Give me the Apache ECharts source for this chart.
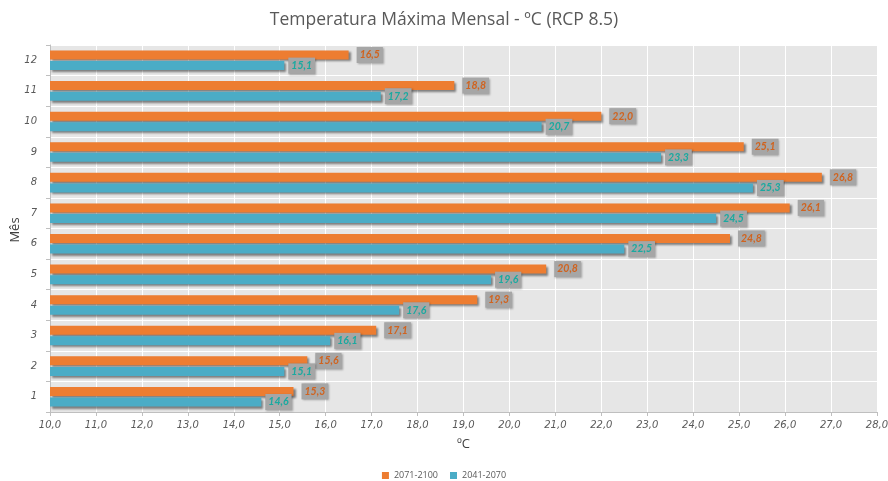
<!DOCTYPE html>
<html>
<head>
<meta charset="utf-8">
<script src="https://cdn.jsdelivr.net/npm/echarts@6/dist/echarts.min.js"></script>
<style>
  html, body { margin: 0; padding: 0; background: #ffffff; }
  #chart { width: 888px; height: 481px; }
</style>
</head>
<body>
<div id="chart"></div>
<script>
// Months (category axis, bottom to top)
const months = ['1', '2', '3', '4', '5', '6', '7', '8', '9', '10', '11', '12'];

// Monthly maximum temperature, ºC
const late = [15.3, 15.6, 17.1, 19.3, 20.8, 24.8, 26.1, 26.8, 25.1, 22.0, 18.8, 16.5];  // 2071-2100
const mid  = [14.6, 15.1, 16.1, 17.6, 19.6, 22.5, 24.5, 25.3, 23.3, 20.7, 17.2, 15.1];  // 2041-2070

const seriesNames = ['2071-2100', '2041-2070'];

const xMin = 10, xMax = 28, xStep = 1;

const comma = v => Number(v).toFixed(1).replace('.', ',');

const axisFont = {
  fontFamily: '"DejaVu Sans", sans-serif',
  fontStyle: 'italic',
  fontSize: 10,
  color: '#595959'
};

const nameFont = '13px "Open Sans", "DejaVu Sans", sans-serif';

function labelStyle(color, dist) {
  return {
    show: true,
    position: 'right',
    distance: dist,
    formatter: p => comma(p.value),
    fontFamily: 'Lato, "DejaVu Sans", sans-serif',
    fontStyle: 'italic',
    fontWeight: 'bold',
    fontSize: 10.5,
    color: color,
    backgroundColor: '#a6a6a6',
    padding: [3, 3, 2, 3],
    shadowColor: 'rgba(0,0,0,0.3)',
    shadowBlur: 2,
    shadowOffsetX: 1,
    shadowOffsetY: 1
  };
}

const barShadow = {
  shadowColor: 'rgba(0,0,0,0.45)',
  shadowBlur: 2,
  shadowOffsetX: 2,
  shadowOffsetY: 2
};

const chart = echarts.init(document.getElementById('chart'), null, { renderer: 'canvas' });

chart.setOption({
  animation: false,
  backgroundColor: '#ffffff',
  title: {
    text: 'Temperatura Máxima Mensal - ºC (RCP 8.5)',
    left: 'center',
    top: 6,
    textStyle: {
      fontFamily: '"Open Sans", "DejaVu Sans", sans-serif',
      fontSize: 17.5,
      fontWeight: 'normal',
      color: '#595959'
    }
  },
  legend: {
    data: seriesNames,
    bottom: 1,
    left: 'center',
    padding: [0, 5],
    itemWidth: 7,
    itemHeight: 7,
    itemGap: 12,
    icon: 'rect',
    textStyle: {
      fontFamily: '"Open Sans", "DejaVu Sans", sans-serif',
      fontSize: 9,
      color: '#595959'
    }
  },
  // Vertical axis title, drawn beside the month labels
  graphic: [{
    type: 'text',
    x: 15,
    y: 230,
    rotation: Math.PI / 2,
    style: {
      text: 'Mês',
      font: nameFont,
      fill: '#404040',
      align: 'center',
      verticalAlign: 'middle'
    }
  }],
  grid: {
    left: 50,
    right: 11,
    top: 45,
    bottom: 69,
    outerBoundsMode: 'none',
    containLabel: false,
    show: true,
    backgroundColor: '#e6e6e6',
    borderWidth: 0
  },
  xAxis: {
    type: 'value',
    min: xMin,
    max: xMax,
    interval: xStep,
    name: 'ºC',
    nameLocation: 'middle',
    nameGap: 26,
    nameTextStyle: {
      fontFamily: '"Open Sans", "DejaVu Sans", sans-serif',
      fontSize: 13,
      color: '#404040'
    },
    axisLine: { show: true, lineStyle: { color: '#bfbfbf' } },
    axisTick: { show: true, length: 4, lineStyle: { color: '#bfbfbf' } },
    axisLabel: Object.assign({ formatter: v => comma(v), margin: 8 }, axisFont),
    splitLine: { show: true, lineStyle: { color: '#ffffff', width: 1 } }
  },
  yAxis: {
    type: 'category',
    data: months,
    axisLine: { show: true, lineStyle: { color: '#bfbfbf' } },
    axisTick: { show: true, length: 4, lineStyle: { color: '#bfbfbf' } },
    axisLabel: Object.assign({ margin: 13 }, axisFont),
    splitLine: { show: true, lineStyle: { color: '#ffffff', width: 1 } }
  },
  series: [
    {
      name: seriesNames[0],
      type: 'bar',
      data: late,
      barWidth: 9,
      barGap: '18%',
      itemStyle: Object.assign({ color: '#ed7d31' }, barShadow),
      label: labelStyle('#d0631f', 8)
    },
    {
      name: seriesNames[1],
      type: 'bar',
      data: mid,
      barWidth: 9,
      barGap: '18%',
      itemStyle: Object.assign({ color: '#4bacc6' }, barShadow),
      label: labelStyle('#1aa9a0', 4)
    }
  ]
});
</script>
</body>
</html>
